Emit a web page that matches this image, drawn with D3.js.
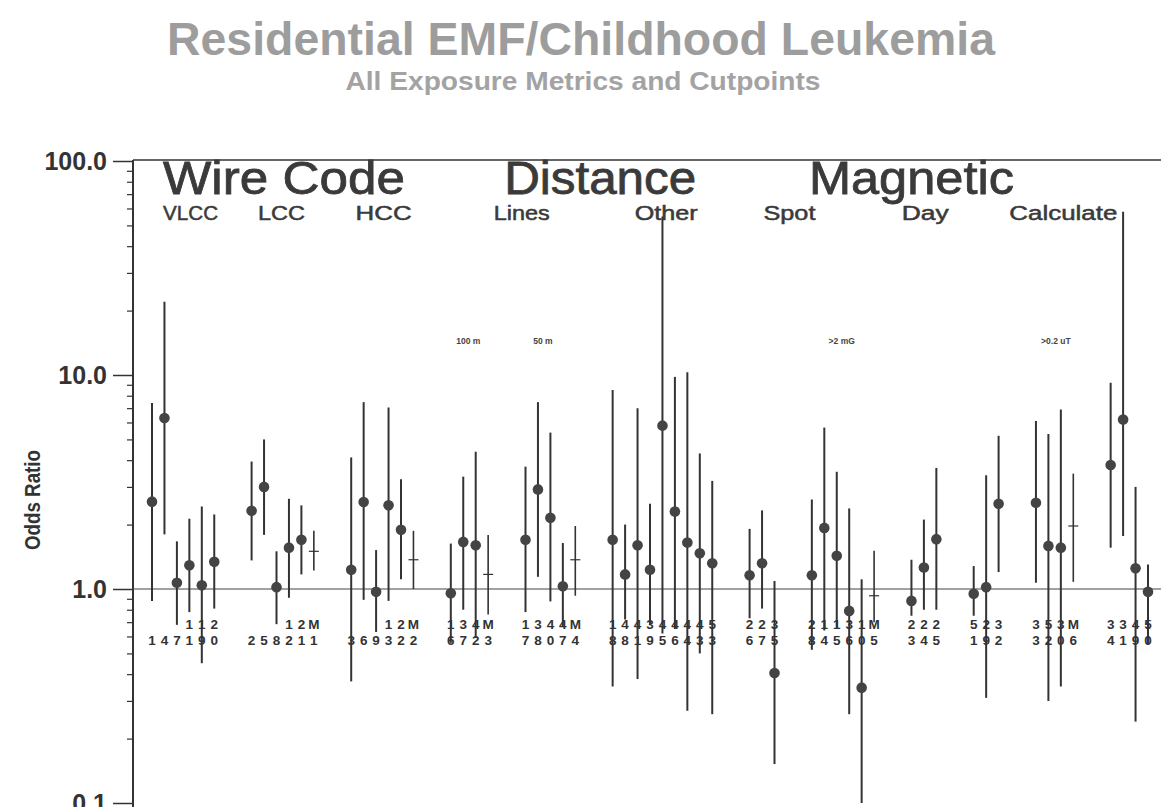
<!DOCTYPE html>
<html><head><meta charset="utf-8">
<script src="https://cdn.jsdelivr.net/npm/d3@7"></script>
<style>body{margin:0;background:#fff}svg{display:block}</style>
</head><body>
<svg id="chart" width="1161" height="807"></svg>
<script>
// ---- data ----
const groupSizes = [6, 6, 6, 4, 5, 9, 3, 6, 3, 3, 4, 4];
const studyIds = [
  "1","4","7","11","19","20",
  "2","5","8","12","21","M1",
  "3","6","9","13","22","M2",
  "16","37","42","M3",
  "17","38","40","47","M4",
  "18","48","41","39","45","46","44","43","53",
  "26","27","35",
  "28","14","15","36","10","M5",
  "23","24","25",
  "51","29","32",
  "33","52","30","M6",
  "34","31","49","50"
];
const oddsRatio = [
  2.56, 6.3, 1.07, 1.29, 1.04, 1.34,
  2.32, 3.0, 1.02, 1.56, 1.70, 1.50,
  1.23, 2.55, 0.97, 2.46, 1.89, 1.37,
  0.955, 1.66, 1.60, 1.17,
  1.70, 2.92, 2.15, 1.03, 1.37,
  1.70, 1.17, 1.60, 1.23, 5.8, 2.3, 1.65, 1.47, 1.32,
  1.16, 1.32, 0.405,
  1.16, 1.93, 1.43, 0.79, 0.346, 0.93,
  0.88, 1.26, 1.71,
  0.95, 1.02, 2.5,
  2.53, 1.59, 1.56, 1.97,
  3.8, 6.2, 1.25, 0.97
];
const lowerCI = [
  0.88, 1.8, 0.68, 0.78, 0.45, 0.81,
  1.36, 1.79, 0.685, 0.91, 1.17, 1.22,
  0.37, 0.89, 0.63, 0.88, 1.11, 1.0,
  0.56, 0.80, 0.59, 0.76,
  0.78, 1.14, 0.875, 0.67, 0.93,
  0.35, 0.72, 0.38, 0.68, 0.62, 0.65, 0.27, 0.50, 0.26,
  0.73, 0.81, 0.152,
  0.52, 0.64, 0.66, 0.26, 0.10, 0.70,
  0.75, 0.80, 0.80,
  0.75, 0.31, 1.2,
  1.07, 0.30, 0.35, 1.08,
  1.56, 1.77, 0.24, 0.55
];
const upperCI = [
  7.4, 22, 1.67, 2.13, 2.43, 2.23,
  3.94, 5.0, 1.5, 2.64, 2.46, 1.87,
  4.12, 7.47, 1.52, 7.05, 3.26, 1.87,
  1.63, 3.35, 4.38, 1.79,
  3.73, 7.47, 5.38, 1.64, 1.97,
  8.5, 2.0, 7.0, 2.5, 55, 9.8, 10.3, 4.3, 3.2,
  1.91, 2.33, 1.09,
  2.62, 5.68, 3.53, 2.38, 1.11, 1.51,
  1.37, 2.11, 3.68,
  1.28, 3.4, 5.2,
  6.1, 5.3, 6.9, 3.46,
  9.2, 58, 3.0, 1.3
];
const yTickValues = [0.1, 1, 10, 100];
const metricTitles = ["Wire Code", "Distance", "Magnetic"];
const metricSubtitles = ["VLCC", "LCC", "HCC", "Lines", "Other", "Spot", "Day", "Calculate"];
const cutpointNotes = ["100 m", "50 m", ">2 mG", ">0.2 uT"];
const chartTitle = "Residential EMF/Childhood Leukemia";
const chartSubtitle = "All Exposure Metrics and Cutpoints";
const yAxisTitle = "Odds Ratio";

// ---- layout ----
const svg = d3.select("#chart");
const FONT = "'Liberation Sans', Arial, Helvetica, sans-serif";
const ink = "#333";

// slot positions: groups separated by two empty slots
const slots = [];
{ let s = 0; groupSizes.forEach(n => { for (let i = 0; i < n; i++) slots.push(s++); s += 2; }); }
const rows = studyIds.map((id, i) => ({id, or: oddsRatio[i], lo: lowerCI[i], hi: upperCI[i], slot: slots[i], pooled: id.startsWith("M")}));

const x = d3.scaleLinear().domain([0, d3.max(slots)]).range([152, 1148]);
const y = d3.scaleLog().domain([0.1, 100]).range([803, 161]);
const left = 133, right = 1161;

// titles
svg.append("text").attr("x", 581).attr("y", 55).attr("text-anchor", "middle")
  .attr("font-family", FONT).attr("font-weight", "bold").attr("font-size", 46)
  .attr("fill", "#9d9d9d").attr("textLength", 828).attr("lengthAdjust", "spacingAndGlyphs")
  .text(chartTitle);
svg.append("text").attr("x", 583).attr("y", 90).attr("text-anchor", "middle")
  .attr("font-family", FONT).attr("font-weight", "bold").attr("font-size", 26)
  .attr("fill", "#a3a3a3").attr("textLength", 475).attr("lengthAdjust", "spacingAndGlyphs")
  .text(chartSubtitle);

// axis title
svg.append("text").attr("transform", "translate(40,500) rotate(-90)").attr("text-anchor", "middle")
  .attr("font-family", FONT).attr("font-weight", "bold").attr("font-size", 22).attr("fill", ink)
  .attr("textLength", 100).attr("lengthAdjust", "spacingAndGlyphs")
  .text(yAxisTitle);

// frame
svg.append("line").attr("x1", left).attr("x2", right).attr("y1", 160).attr("y2", 160).attr("stroke", ink).attr("stroke-width", 1.5);
svg.append("line").attr("x1", left).attr("x2", left).attr("y1", 160).attr("y2", 807).attr("stroke", ink).attr("stroke-width", 2);

// y axis
const majorAxis = d3.axisLeft(y).tickValues(yTickValues).tickFormat(d3.format(".1f")).tickSize(20).tickSizeOuter(0).tickPadding(6);
const gy = svg.append("g").attr("transform", `translate(${left},0)`).call(majorAxis);
gy.select(".domain").remove();
gy.selectAll("line").attr("stroke", ink).attr("stroke-width", 1.5);
gy.selectAll("text").attr("font-family", FONT).attr("font-weight", "bold").attr("font-size", 25).attr("fill", ink);

const minorVals = [];
[0.1, 1, 10].forEach(d => { for (let k = 2; k <= 9; k++) minorVals.push(d * k); });
const gm = svg.append("g").attr("transform", `translate(${left},0)`)
  .call(d3.axisLeft(y).tickValues(minorVals).tickFormat("").tickSize(6).tickSizeOuter(0));
gm.select(".domain").remove();
gm.selectAll("line").attr("stroke", ink).attr("stroke-width", 1.2);

// reference line at OR = 1
svg.append("line").attr("x1", left).attr("x2", right).attr("y1", y(1)).attr("y2", y(1)).attr("stroke", "#444").attr("stroke-width", 1.1);

// header text
const bigPos = [10.6, 36.0, 61.0];
const bigLen = [242, 192, 205];
metricTitles.forEach((t, i) => {
  svg.append("text").attr("x", x(bigPos[i])).attr("y", 194).attr("text-anchor", "middle")
    .attr("font-family", FONT).attr("font-size", 46).attr("fill", "#3a3a3a")
    .attr("stroke", "#3a3a3a").attr("stroke-width", 0.8)
    .attr("textLength", bigLen[i]).attr("lengthAdjust", "spacingAndGlyphs").text(t);
});
const subPos = [3.1, 10.4, 18.6, 29.7, 41.3, 51.2, 62.1, 73.2];
const subLen = [55, 47, 56, 56, 63, 52, 47, 108];
metricSubtitles.forEach((t, i) => {
  svg.append("text").attr("x", x(subPos[i])).attr("y", 220).attr("text-anchor", "middle")
    .attr("font-family", FONT).attr("font-size", 20).attr("fill", "#3a3a3a")
    .attr("stroke", "#3a3a3a").attr("stroke-width", 0.5)
    .attr("textLength", subLen[i]).attr("lengthAdjust", "spacingAndGlyphs").text(t);
});
const notePos = [25.4, 31.4, 55.4, 72.6];
cutpointNotes.forEach((t, i) => {
  svg.append("text").attr("x", x(notePos[i])).attr("y", 344).attr("text-anchor", "middle")
    .attr("font-family", FONT).attr("font-weight", "bold").attr("font-size", 8.5).attr("fill", "#444").text(t);
});

// CI bars
const g = svg.append("g");
g.selectAll("line.ci").data(rows).join("line").attr("class", "ci")
  .attr("x1", d => x(d.slot)).attr("x2", d => x(d.slot))
  .attr("y1", d => y(d.hi)).attr("y2", d => y(d.lo))
  .attr("stroke", ink).attr("stroke-width", d => d.pooled ? 1.6 : 2);
g.selectAll("circle.pt").data(rows.filter(d => !d.pooled)).join("circle").attr("class", "pt")
  .attr("cx", d => x(d.slot)).attr("cy", d => y(d.or)).attr("r", 5.3).attr("fill", "#444");
g.selectAll("line.pm").data(rows.filter(d => d.pooled)).join("line").attr("class", "pm")
  .attr("x1", d => x(d.slot) - 5).attr("x2", d => x(d.slot) + 5)
  .attr("y1", d => y(d.or)).attr("y2", d => y(d.or)).attr("stroke", ink).attr("stroke-width", 1.2);

// study labels (tens digit above units digit)
const lab = svg.append("g").attr("font-family", FONT).attr("font-weight", "bold").attr("font-size", 13.5)
  .attr("fill", ink).attr("text-anchor", "middle");
rows.forEach(d => {
  const s = d.id.length === 1 ? " " + d.id : d.id;
  if (s[0] !== " ") lab.append("text").attr("x", x(d.slot)).attr("y", 629).text(s[0]);
  lab.append("text").attr("x", x(d.slot)).attr("y", 645).text(s[1]);
});
</script>
</body></html>
